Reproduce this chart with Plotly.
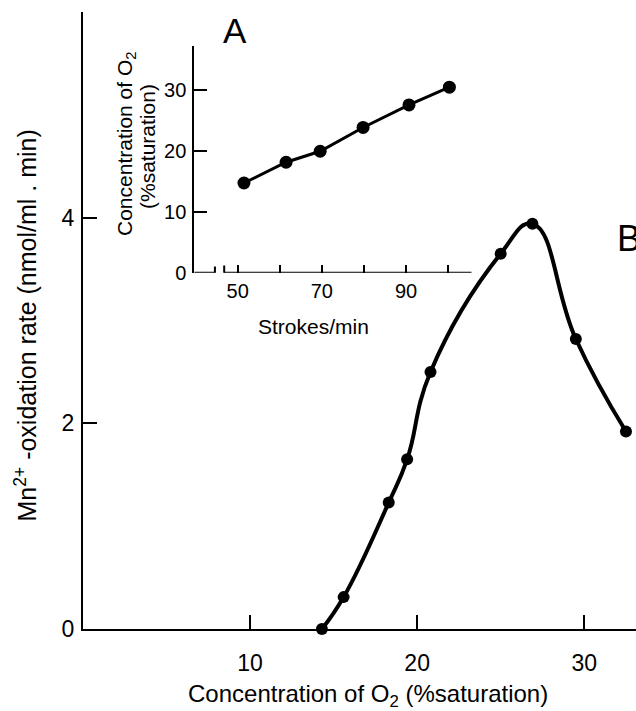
import plotly.graph_objects as go

# ---- data ----
o2_main = [14.3, 15.6, 18.3, 19.4, 20.8, 25.0, 26.9, 29.5, 32.5]
rate_main = [0.0, 0.31, 1.23, 1.65, 2.50, 3.65, 3.94, 2.82, 1.92]
main_xticks = [10, 20, 30]
main_yticks = [0, 2, 4]

strokes = [51.5, 61.5, 69.6, 79.8, 90.7, 100.3]
o2_inset = [14.7, 18.1, 19.9, 23.8, 27.5, 30.4]
inset_xticks = [50, 70, 90]
inset_xminor = [60, 80, 100]
inset_yticks = [0, 10, 20, 30]

FONT = "Liberation Sans, Arial, Helvetica, sans-serif"
W, H = 636, 711
L, R, T, B = 83, 0, 12, 82
PW, PH = W - L - R, H - T - B


def px(p):
    return (p - L) / PW


def py(p):
    return (H - B - p) / PH


fig = go.Figure()

fig.add_trace(go.Scatter(
    x=o2_main, y=rate_main, mode="lines+markers",
    line=dict(color="black", width=4, shape="spline", smoothing=1.3),
    marker=dict(color="black", size=12),
    xaxis="x", yaxis="y", showlegend=False, cliponaxis=False,
))

fig.add_trace(go.Scatter(
    x=strokes, y=o2_inset, mode="lines+markers",
    line=dict(color="black", width=3),
    marker=dict(color="black", size=13),
    xaxis="x2", yaxis="y2", showlegend=False, cliponaxis=False,
))

ax_common = dict(showgrid=False, zeroline=False, showline=True, linecolor="black",
                 linewidth=2, ticks="inside", tickcolor="black", tickwidth=2)

inset_x0, inset_x1 = 39.7, 105.6
brk1, brk2 = 44.6, 46.8

fig.update_layout(
    width=W, height=H,
    margin=dict(l=L, r=R, t=T, b=B),
    paper_bgcolor="white", plot_bgcolor="white",
    font=dict(family=FONT, color="black"),
    xaxis=dict(range=[0, 33.1], tickvals=main_xticks, ticklen=14,
               tickfont=dict(size=23), ticklabelstandoff=12, **ax_common),
    yaxis=dict(range=[0, 6.0], tickvals=main_yticks, ticklen=14,
               tickfont=dict(size=23), ticklabelstandoff=2, **ax_common),
    xaxis2=dict(domain=[px(194.3), px(471.7)], anchor="y2", range=[inset_x0, inset_x1],
                tickvals=inset_xticks, ticklen=8,
                tickfont=dict(size=20), ticklabelstandoff=4,
                showgrid=False, zeroline=False, showline=False,
                ticks="inside", tickcolor="black", tickwidth=2,
                minor=dict(tickvals=inset_xminor, ticks="inside", ticklen=8,
                           tickcolor="black", tickwidth=2, showgrid=False)),
    yaxis2=dict(domain=[py(272.7), py(45.7)], anchor="x2", range=[0, 37.2],
                tickvals=inset_yticks, ticklen=13,
                tickfont=dict(size=20), ticklabelstandoff=2, **ax_common),
    shapes=[
        dict(type="line", xref="x2", yref="y2", x0=inset_x0, x1=brk1, y0=0, y1=0,
             line=dict(color="black", width=2)),
        dict(type="line", xref="x2", yref="y2", x0=brk2, x1=inset_x1, y0=0, y1=0,
             line=dict(color="black", width=2)),
        dict(type="line", xref="x2", yref="y2", x0=brk1, x1=brk1, y0=-1.0, y1=1.0,
             line=dict(color="black", width=2)),
        dict(type="line", xref="x2", yref="y2", x0=brk2, x1=brk2, y0=-1.2, y1=1.2,
             line=dict(color="black", width=2)),
    ],
    annotations=[
        dict(text="Mn<sup>2+</sup> -oxidation rate (nmol/ml . min)", xref="paper", yref="paper",
             x=px(25), y=py(325.5), textangle=-90, showarrow=False,
             font=dict(size=25), xanchor="center", yanchor="middle"),
        dict(text="Concentration of O<sub>2</sub> (%saturation)", xref="paper", yref="paper",
             x=px(368), y=py(695), showarrow=False,
             font=dict(size=24), xanchor="center", yanchor="middle"),
        dict(text="Concentration of O<sub>2</sub>", xref="paper", yref="paper",
             x=px(126), y=py(144), textangle=-90, showarrow=False,
             font=dict(size=21), xanchor="center", yanchor="middle"),
        dict(text="(%saturation)", xref="paper", yref="paper",
             x=px(147), y=py(147), textangle=-90, showarrow=False,
             font=dict(size=21), xanchor="center", yanchor="middle"),
        dict(text="Strokes/min", xref="paper", yref="paper",
             x=px(313), y=py(326), showarrow=False,
             font=dict(size=21), xanchor="center", yanchor="middle"),
        dict(text="A", xref="paper", yref="paper",
             x=px(235), y=py(30.5), showarrow=False,
             font=dict(size=35), xanchor="center", yanchor="middle"),
        dict(text="B", xref="paper", yref="paper",
             x=px(629), y=py(238.7), showarrow=False,
             font=dict(size=36), xanchor="center", yanchor="middle"),
    ],
)

fig.write_html("out.html", config={"displayModeBar": False},
               post_script="document.body.style.margin='0';")
